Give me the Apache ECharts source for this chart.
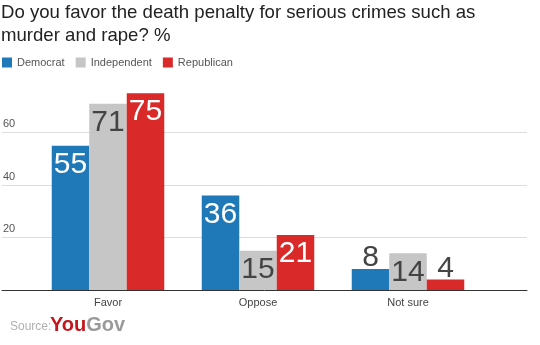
<!DOCTYPE html>
<html><head><meta charset="utf-8">
<script src="https://cdn.jsdelivr.net/npm/echarts@6/dist/echarts.min.js"></script>
<style>html,body{margin:0;padding:0;background:#fff}#c{width:540px;height:345px}</style>
</head><body><div id="c"></div>
<script>
var categories = ['Favor', 'Oppose', 'Not sure'];
var democrat = [55, 36, 8];
var independent = [71, 15, 14];
var republican = [75, 21, 4];
var seriesNames = ['Democrat', 'Independent', 'Republican'];
var yTicks = [0, 20, 40, 60, 80];

var chart = echarts.init(document.getElementById('c'));
var F = 'Liberation Sans, Arial, sans-serif';
var colors = ['#1f78b8', '#c6c6c6', '#d92929'];
function lbl(dark) {
  return {
    show: true, position: 'insideTop', distance: 4,
    fontFamily: F, fontSize: 30, color: dark ? '#444' : '#fff'
  };
}
function mkData(vals) {
  return vals.map(function (v) {
    if (v < 12) {
      return { value: v, label: { position: 'top', distance: -4, color: '#444' } };
    }
    return v;
  });
}
chart.setOption({
  animation: false,
  title: {
    text: 'Do you favor the death penalty for serious crimes such as\nmurder and rape? %',
    left: 1, top: 1, padding: [0, 0, 0, 0],
    textStyle: { fontFamily: F, fontSize: 18.6, fontWeight: 'normal', color: '#222', lineHeight: 23.5 }
  },
  legend: {
    data: seriesNames, left: 2, top: 57, padding: 0, itemWidth: 10, itemHeight: 10, itemGap: 11,
    icon: 'rect',
    textStyle: { fontFamily: F, fontSize: 11, color: '#555' }
  },
  grid: [
    { left: 2, right: 13, top: 80, bottom: 55 },
    { left: 33, right: 57, top: 80, bottom: 55 }
  ],
  xAxis: [
    { type: 'category', gridIndex: 0, data: [''], axisLine: { lineStyle: { color: '#333', width: 1 } },
      axisTick: { show: false }, axisLabel: { show: false } },
    { type: 'category', gridIndex: 1, data: categories,
      axisLine: { show: false }, axisTick: { show: false },
      axisLabel: { fontFamily: F, fontSize: 11, color: '#444', margin: 7 } }
  ],
  yAxis: [
    { type: 'value', gridIndex: 0, min: yTicks[0], max: yTicks[yTicks.length - 1], interval: 20,
      axisLine: { show: false }, axisTick: { show: false },
      splitLine: { lineStyle: { color: '#ddd' }, showMaxLine: false, showMinLine: false },
      axisLabel: { inside: true, margin: 1, verticalAlign: 'bottom', padding: [0, 0, 3, 0],
        fontFamily: F, fontSize: 11, color: '#555', showMinLabel: false, showMaxLabel: false } },
    { type: 'value', gridIndex: 1, min: yTicks[0], max: yTicks[yTicks.length - 1], interval: 20,
      show: false }
  ],
  series: [
    { name: seriesNames[0], type: 'bar', xAxisIndex: 1, yAxisIndex: 1, data: mkData(democrat),
      itemStyle: { color: colors[0] }, barGap: '0%', barCategoryGap: '25%', label: lbl(false) },
    { name: seriesNames[1], type: 'bar', xAxisIndex: 1, yAxisIndex: 1, data: independent,
      itemStyle: { color: colors[1] }, barGap: '0%', barCategoryGap: '25%', label: lbl(true) },
    { name: seriesNames[2], type: 'bar', xAxisIndex: 1, yAxisIndex: 1, data: mkData(republican),
      itemStyle: { color: colors[2] }, barGap: '0%', barCategoryGap: '25%', label: lbl(false) }
  ],
  graphic: [
    { type: 'text', left: 10, top: 321, style: { text: 'Source:', fontFamily: F, fontSize: 12, fill: '#b0b0b0' } },
    { type: 'text', left: 50, top: 315, style: {
      text: '{r|You}{g|Gov}',
      rich: {
        r: { fontFamily: F, fontSize: 20, fontWeight: 'bold', fill: '#c4161c', color: '#c4161c' },
        g: { fontFamily: F, fontSize: 20, fontWeight: 'bold', fill: '#9a9a9a', color: '#9a9a9a' }
      } } }
  ]
});
</script></body></html>
